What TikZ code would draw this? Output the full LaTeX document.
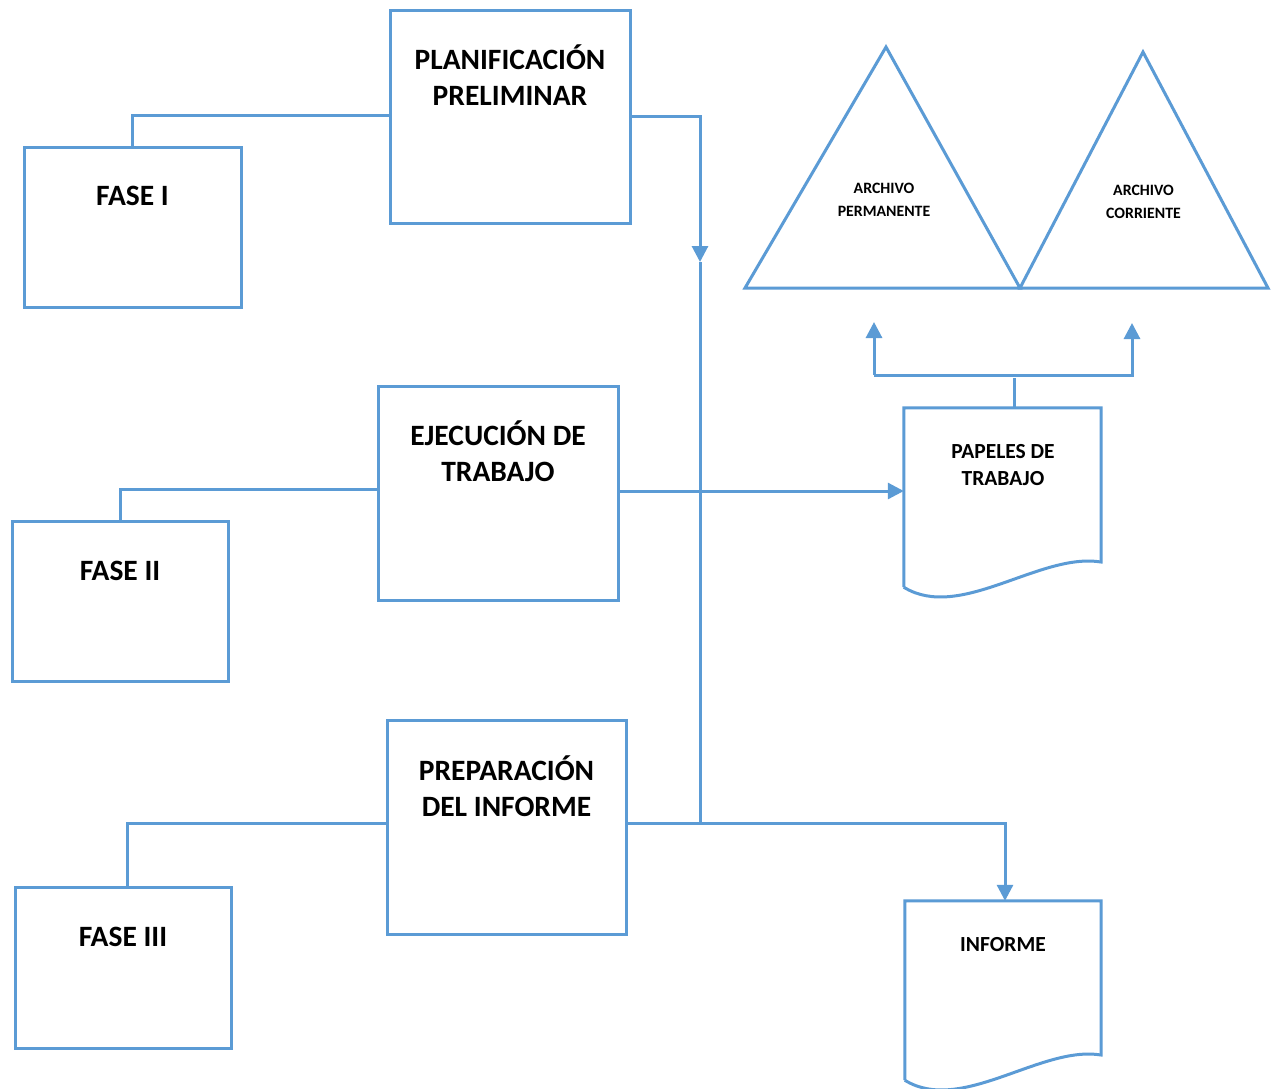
\documentclass[tikz,border=0pt]{standalone}
\usepackage{fontspec}
\setmainfont{Carlito}
\usetikzlibrary{arrows.meta,calc}
\definecolor{lb}{HTML}{5B9BD5}
\begin{document}
\begin{tikzpicture}[x=1pt,y=-1pt,
  ln/.style={draw=lb,line width=3pt},
  tip/.style={-{Triangle[length=16pt,width=16pt]}},
  box/.style={draw=lb,line width=3pt,inner sep=0pt},
  ghost/.style={inner sep=0pt},
  big/.style={font=\bfseries\fontsize{29.5}{36}\selectfont,align=center,inner sep=0pt,text=black},
  mid/.style={font=\bfseries\fontsize{21.5}{27}\selectfont,align=center,inner sep=0pt,text=black},
  sml/.style={font=\bfseries\fontsize{15.8}{23}\selectfont,align=center,inner sep=0pt,text=black}]
\useasboundingbox (0,0) rectangle (1275,1088);
\fill[white] (0,0) rectangle (1275,1088);

% main boxes
\node[box,minimum width=240pt,minimum height=213pt] (plan) at (510,116.5) {};
\node[box,minimum width=240pt,minimum height=214pt] (ejec) at (498,493) {};
\node[box,minimum width=239pt,minimum height=214pt] (prep) at (506.5,827) {};
\node[big] (tplan) at (510,75.5) {PLANIFICACIÓN\\PRELIMINAR};
\node[big] (tejec) at (498,451.5) {EJECUCIÓN DE\\TRABAJO};
\node[big] (tprep) at (506.5,786.5) {PREPARACIÓN\\DEL INFORME};

% phase boxes
\node[box,minimum width=217pt,minimum height=160pt] (f1) at (132.5,227) {};
\node[box,minimum width=216pt,minimum height=160pt] (f2) at (120,601) {};
\node[box,minimum width=216pt,minimum height=161pt] (f3) at (123,967.5) {};
\node[big] (tf1) at (132.5,196) {FASE I};
\node[big] (tf2) at (120,571) {FASE II};
\node[big] (tf3) at (123,937) {FASE III};

% phase connectors
\draw[ln] ($(plan.west)+(0,-1.5)$) -| (f1.north);
\draw[ln] ($(ejec.west)+(0,-4)$) -| (f2.north);
\draw[ln] ($(prep.west)+(0,-4)$) -| ($(f3.north)+(4,0)$);

% documents
\node[ghost,minimum width=197pt,minimum height=179pt] (pap) at (1002.5,497.5) {};
\draw[ln] (pap.south west) -- (pap.north west) -- (pap.north east) -- (1101,562)
  .. controls (1040,552) and (960,622) .. (pap.south west);
\node[mid] (tpap) at (1003,465) {PAPELES DE\\TRABAJO};

\node[ghost,minimum width=196pt,minimum height=179pt] (inf) at (1003,990.5) {};
\draw[ln] (inf.south west) -- (inf.north west) -- (inf.north east) -- (1101,1055)
  .. controls (1041,1045) and (961,1115) .. (inf.south west);
\node[mid] (tinf) at (1003,945) {INFORME};

% triangles
\coordinate (a1) at (745,288);
\coordinate (a2) at (886,47);
\coordinate (a3) at (1020,288);
\coordinate (b2) at (1143,52);
\coordinate (b3) at (1268,288);
\draw[ln,line join=miter] (a1) -- (a2) -- (a3) -- cycle;
\draw[ln,line join=miter] (a3) -- (b2) -- (b3) -- cycle;
\node[sml] (tap) at (884,200) {ARCHIVO\\PERMANENTE};
\node[sml] (tac) at (1143.5,201.5) {ARCHIVO\\CORRIENTE};

% flow connectors
\coordinate (ja) at (700,116.5);
\coordinate (jm) at (700,262);
\coordinate (jb) at (700,823);
\draw[ln,tip] (plan.east) -- (ja) -- (jm);
\draw[ln] (jm) -- (jb);
\draw[ln,tip] (ejec.east |- 0,491) -- (pap.west |- 0,491);
\coordinate (ia) at (1005,823);
\draw[ln,tip] ($(prep.east)+(0,-4)$) -- (ia) -- (ia |- inf.north);

% split above papeles
\coordinate (ps) at (1014,378);
\coordinate (sl) at (874,375);
\coordinate (sr) at (1132,375);
\coordinate (el) at (874,322);
\coordinate (er) at (1132,323);
\draw[ln] (pap.north -| ps) -- (ps);
\draw[ln,tip] (el |- sl) -- (sl) -- (el);
\draw[ln,tip] (sl) -- (sr) -- (er);
\end{tikzpicture}
\end{document}
